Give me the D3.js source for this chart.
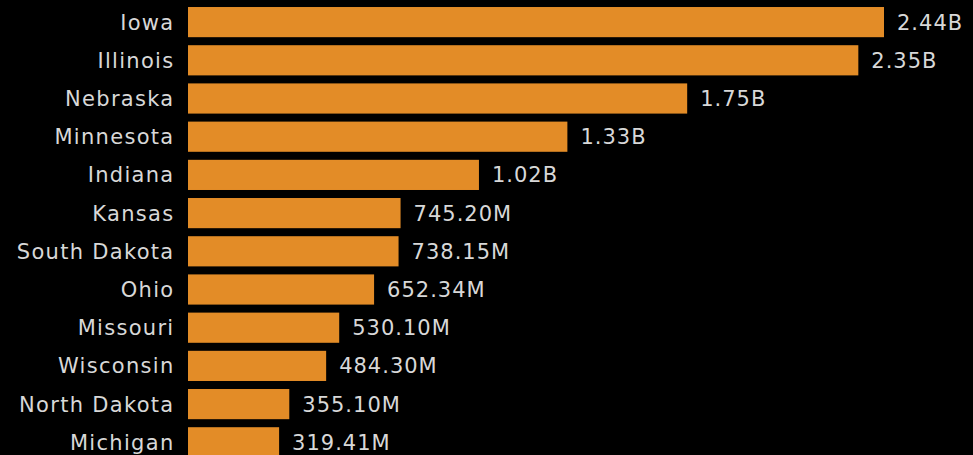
<!DOCTYPE html>
<html>
<head>
<meta charset="utf-8">
<script src="https://cdn.jsdelivr.net/npm/d3@7"></script>
<style>
  body { margin: 0; background: #000; }
  svg { display: block; }
</style>
</head>
<body>
<svg></svg>
<script>
// states and values (in dollars)
var states = ["Iowa", "Illinois", "Nebraska", "Minnesota", "Indiana", "Kansas",
  "South Dakota", "Ohio", "Missouri", "Wisconsin", "North Dakota", "Michigan"];
var values = [2.44e9, 2.35e9, 1.75e9, 1.33e9, 1.02e9, 745.20e6,
  738.15e6, 652.34e6, 530.10e6, 484.30e6, 355.10e6, 319.41e6];

var screen = {width: 973, height: 455};

var fmt = function(v)
{
    if (v >= 1e9) return (v / 1e9).toFixed(2) + "B";
    return (v / 1e6).toFixed(2) + "M";
}

var svg = d3.select("svg")
    .attr("width", screen.width)
    .attr("height", screen.height);

var x = d3.scaleLinear().domain([0, 2.44e9]).range([188, 884]);
var y = d3.scaleBand().domain(states).range([3, 3 + 12 * 38.2])
    .paddingInner(0.21).paddingOuter(0.105);

var rows = svg.selectAll("g.row")
    .data(states)
    .enter()
    .append("g")
    .attr("class", "row");

rows.append("rect")
    .attr("x", x(0))
    .attr("y", function(d) { return y(d); })
    .attr("width", function(d, i) { return x(values[i]) - x(0); })
    .attr("height", y.bandwidth())
    .attr("fill", "#e38c27");

//state names on the left
rows.append("text")
    .attr("x", 174.5)
    .attr("y", function(d) { return y(d) + y.bandwidth() / 2; })
    .attr("dy", "0.36em")
    .attr("text-anchor", "end")
    .attr("font-family", "DejaVu Sans, Verdana, sans-serif")
    .attr("font-size", 21)
    .attr("letter-spacing", 1.3)
    .attr("fill", "#d8d8d8")
    .text(function(d) { return d; });

//value labels after the bars
rows.append("text")
    .attr("x", function(d, i) { return x(values[i]) + 13; })
    .attr("y", function(d) { return y(d) + y.bandwidth() / 2; })
    .attr("dy", "0.36em")
    .attr("font-family", "DejaVu Sans, Verdana, sans-serif")
    .attr("font-size", 21)
    .attr("letter-spacing", 1)
    .attr("fill", "#d8d8d8")
    .text(function(d, i) { return fmt(values[i]); });
</script>
</body>
</html>
